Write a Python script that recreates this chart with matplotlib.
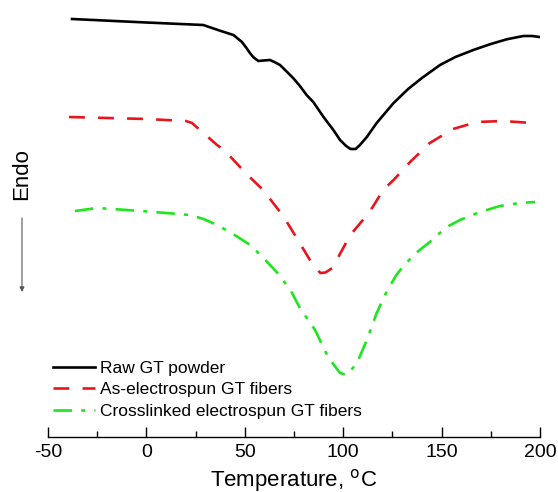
import numpy as np
import matplotlib.pyplot as plt
from matplotlib.ticker import MultipleLocator

plt.rcParams['font.family'] = ['Liberation Sans', 'DejaVu Sans']
plt.rcParams['axes.unicode_minus'] = False

# heat flow in arbitrary units (endo down)
T_raw = [-37.8, 0, 28.9, 37.4, 44.2, 48.4, 50.5, 52.7, 54.5, 56.9, 59.5, 62.8, 65,
         67.9, 71, 74.7, 78, 81.4, 84.8, 89.9, 95, 98.4, 101.5, 103.7, 106.3, 108.5,
         112, 117, 125.6, 133, 140, 149.2, 157, 166.1, 175, 183.1, 191.5, 196, 200.8]
H_raw = [4.18, 4.145, 4.12, 4.063, 4.02, 3.953, 3.90, 3.837, 3.795, 3.76, 3.765, 3.77,
         3.75, 3.72, 3.66, 3.587, 3.51, 3.42, 3.35, 3.203, 3.07, 2.97, 2.91, 2.88, 2.88,
         2.92, 3.00, 3.14, 3.34, 3.48, 3.59, 3.72, 3.80, 3.87, 3.93, 3.977, 4.01, 4.01,
         3.997]

T_as = [-39.3, 0, 20, 23.2, 27.2, 35.9, 40, 47.6, 53, 59.3, 64, 69.5, 77, 84, 88.4,
        91, 94.5, 103.6, 110, 115, 120.3, 125.6, 134, 144, 155.8, 168, 181, 196]
H_as = [3.20, 3.18, 3.16, 3.14, 3.07, 2.92, 2.86, 2.70, 2.59, 2.47, 2.35, 2.21, 1.97,
        1.74, 1.64, 1.645, 1.69, 2.02, 2.17, 2.30, 2.47, 2.57, 2.75, 2.94, 3.08, 3.15,
        3.16, 3.14]

T_cl = [-36.3, -25, -10, 2, 12, 22.2, 29, 36, 44, 52.8, 59.5, 66.6, 73.2, 78, 85.7,
        92.3, 98.4, 101.9, 107, 112, 117, 122, 127, 131.5, 137.6, 144, 152.6, 159.3,
        169.5, 179.7, 189.8, 197.5]
H_cl = [2.26, 2.29, 2.27, 2.253, 2.237, 2.22, 2.18, 2.12, 2.03, 1.92, 1.79, 1.64, 1.47,
        1.29, 1.07, 0.80, 0.64, 0.62, 0.74, 0.97, 1.24, 1.45, 1.62, 1.73, 1.85, 1.95,
        2.10, 2.17, 2.25, 2.31, 2.34, 2.35]

fig = plt.figure(figsize=(5.58, 4.92), dpi=100)
ax = fig.add_axes([48 / 558, 55 / 492, 492 / 558, 427 / 492])

ax.plot(T_raw, H_raw, color='black', linewidth=1.9, solid_joinstyle='round',
        label='Raw GT powder')
ax.plot(T_as, H_as, color='#e8161c', linewidth=1.9, dashes=(6, 5),
        dash_joinstyle='round', label='As-electrospun GT fibers')
ax.plot(T_cl, H_cl, color='#1ee61e', linewidth=1.9, dashes=(7, 3.5, 1.5, 3.5),
        dash_joinstyle='round', label='Crosslinked electrospun GT fibers')

ax.set_xlim(-50, 200)
ax.set_ylim(0, 4.27)
for s in ['left', 'right', 'top']:
    ax.spines[s].set_visible(False)
ax.spines['bottom'].set_linewidth(1.0)
ax.set_yticks([])
ax.xaxis.set_major_locator(MultipleLocator(50))
ax.xaxis.set_minor_locator(MultipleLocator(25))
ax.tick_params(axis='x', which='major', direction='in', length=7, width=1.0,
               labelsize=14, pad=5)
ax.tick_params(axis='x', which='minor', direction='in', length=4, width=1.0)
ax.set_xlabel(r'Temperature, $^{\rm o}$C', fontsize=16, labelpad=4)

ax.legend(loc='lower left', bbox_to_anchor=(-0.0146, 0.014), frameon=False,
          fontsize=12.5, handlelength=2.4, handletextpad=0.3, labelspacing=0.37,
          borderpad=0.2)

fig.text(22 / 558, 1 - 174 / 492, 'Endo', rotation=90, fontsize=16,
         ha='center', va='center')
ax.annotate('', xy=(22 / 558, 1 - 292 / 492), xytext=(22 / 558, 1 - 218 / 492),
            xycoords='figure fraction',
            arrowprops=dict(arrowstyle='-|>', color='#555555', lw=0.8,
                            mutation_scale=7, shrinkA=0, shrinkB=0))

fig.savefig('out.png', dpi=100)
